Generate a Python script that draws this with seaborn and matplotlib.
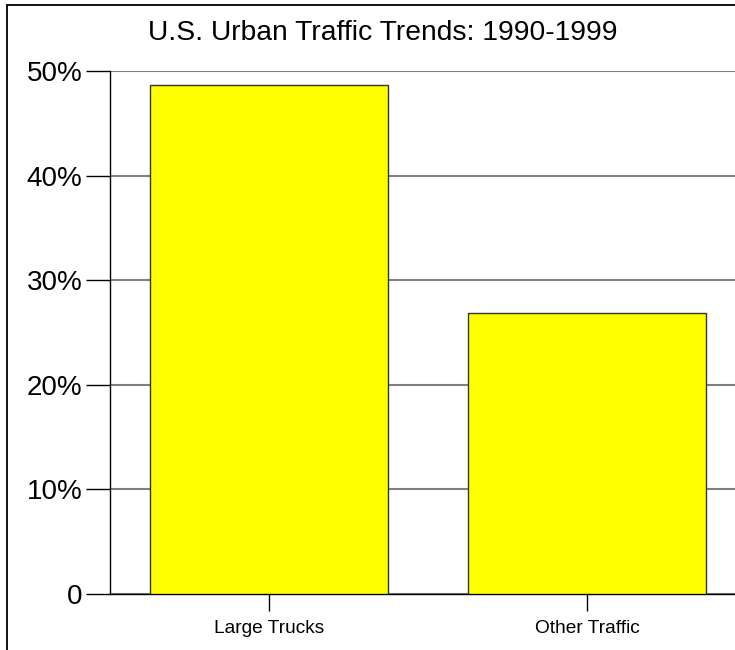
import matplotlib
matplotlib.use('Agg')
import matplotlib.pyplot as plt
import seaborn as sns
import pandas as pd
from matplotlib.patches import Rectangle

sns.set_style('white')
plt.rcParams['font.family'] = ['Liberation Sans', 'DejaVu Sans']

categories = ['Large Trucks', 'Other Traffic']
growth = [48.7, 26.9]
y_ticks = [0, 10, 20, 30, 40, 50]
y_labels = ['0', '10%', '20%', '30%', '40%', '50%']

df = pd.DataFrame({'category': categories, 'growth': growth})

fig = plt.figure(figsize=(7.35, 6.5), dpi=100)
# figure frame (clipped on right / bottom as in the original)
fig.patches.append(Rectangle((7 / 735, -0.1), 1.2, 1 - 5 / 650 + 0.1,
                             transform=fig.transFigure, fill=False,
                             edgecolor='black', linewidth=1.3))

ax = fig.add_axes([110 / 735, 56 / 650, 636 / 735, 523 / 650])

sns.barplot(data=df, x='category', y='growth', color='#ffff00',
            saturation=1, width=0.75, edgecolor='#333333', linewidth=1,
            ax=ax, zorder=3)

ax.set_xlim(-0.5, 1.5)
ax.set_ylim(0, 50)
ax.set_yticks(y_ticks)
ax.set_yticklabels(y_labels, fontsize=20)
ax.tick_params(axis='y', direction='out', length=17, width=1, pad=3,
               left=True, colors='black')
ax.tick_params(axis='x', direction='out', length=12, width=1, pad=7,
               bottom=True, labelsize=13.8, colors='black')
ax.yaxis.grid(True, color='#808080', linewidth=1.5, zorder=0)
ax.set_axisbelow(True)
ax.set_xlabel('')
ax.set_ylabel('')

for side in ['top', 'right']:
    ax.spines[side].set_visible(False)
for side in ['left', 'bottom']:
    ax.spines[side].set_color('black')
    ax.spines[side].set_linewidth(1)

fig.text(383 / 735, 1 - 33 / 650, 'U.S. Urban Traffic Trends: 1990-1999',
         ha='center', va='center', fontsize=20.3, color='black')

fig.savefig('out.png', dpi=100)
plt.close()
